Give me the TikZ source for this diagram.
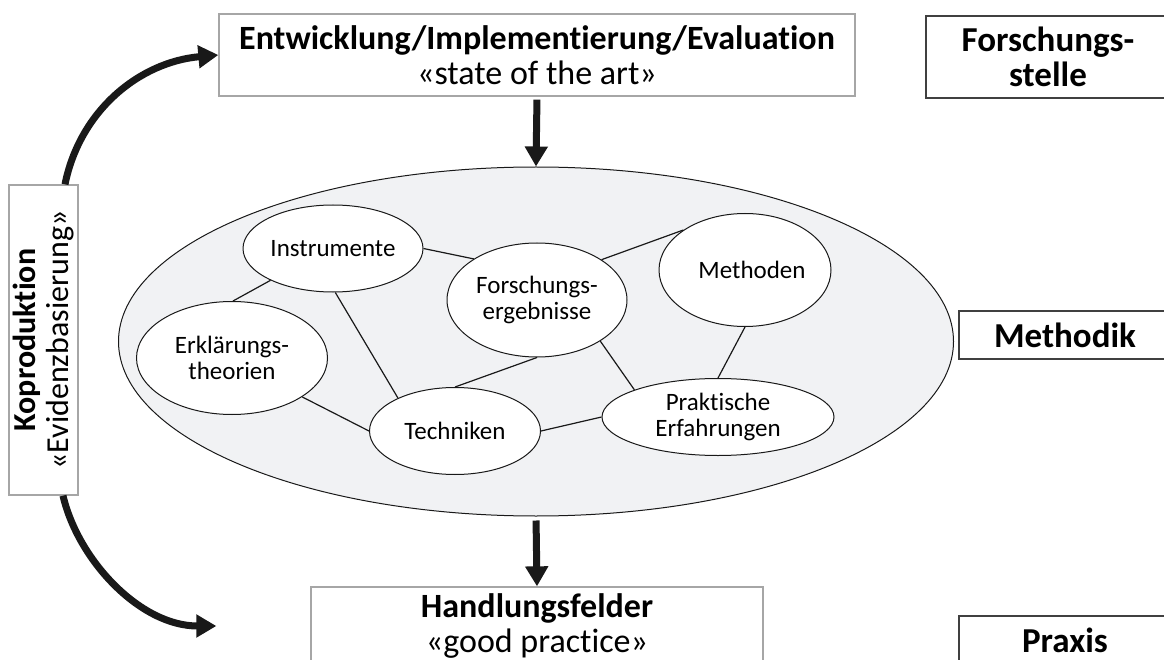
\documentclass[tikz,border=0pt]{standalone}
\usepackage{fontspec}
\setmainfont{Carlito}[Ligatures=NoCommon]
\usepackage{tikz}
\usetikzlibrary{positioning}
\usetikzlibrary{shapes.geometric, arrows.meta}
\definecolor{ovalgray}{HTML}{F1F2F4}
\definecolor{boxgray}{HTML}{A6A6A6}
\tikzstyle{bigarrow} = [line width=7pt,draw=black!90,-{Triangle[length=20pt,width=22pt]}]
\tikzstyle{box} = [draw=boxgray,line width=1.3pt,fill=white,align=center,font=\fontsize{34}{35}\selectfont]
\tikzstyle{sidebox} = [draw=black!75,line width=1.3pt,fill=white,align=center,font=\fontsize{35}{35}\selectfont\bfseries]
\tikzstyle{oval} = [ellipse,draw=black!90,line width=1pt,fill=white,align=center,inner sep=0pt,font=\fontsize{25}{26}\selectfont]
\tikzstyle{link} = [line width=1.2pt,draw=black!90]

\begin{document}
\begin{tikzpicture}[x=1pt,y=-1pt]
	\useasboundingbox (0,0) rectangle (1164,660);
	%Nodes
	\node (oval) [ellipse,draw=black!90,line width=1pt,fill=ovalgray,minimum width=835pt,minimum height=349pt] at (536,341.5) {};
	
	\node (entw) [box,minimum width=636pt,minimum height=82pt] at (537,55) {\textbf{Entwicklung/Implementierung/Evaluation}\\«state of the art»};
	\node (hand) [box,minimum width=452pt,minimum height=78pt] at (537,626) {\textbf{Handlungsfelder}\\«good practice»};
	\node (kopro) [box,rotate=90,inner sep=0pt,minimum width=310pt,minimum height=69pt,font=\fontsize{32}{33}\selectfont] at (43.5,340) {\textbf{Koproduktion}\\«Evidenzbasierung»};
	
	\node (fstelle) [sidebox,minimum width=244pt,minimum height=82pt] at (1048,57) {Forschungs-\\stelle};
	\node (methodik) [sidebox,minimum width=212pt,minimum height=48pt] at (1065,335) {Methodik};
	\node (praxis) [sidebox,minimum width=212pt,minimum height=48pt] at (1065,640) {Praxis};
	
	\node (instr) [oval,minimum width=180pt,minimum height=87pt] at (333,248.5) {Instrumente};
	\node (forsch) [oval,minimum width=180pt,minimum height=114pt] at (537,300) {Forschungs-\\ergebnisse};
	\node (meth) [oval,minimum width=172pt,minimum height=113pt] at (745,270) {\hspace*{14pt}Methoden};
	\node (erkl) [oval,minimum width=191pt,minimum height=113pt] at (232,358) {Erklärungs-\\theorien};
	\node (tech) [oval,minimum width=171pt,minimum height=87pt] at (455,431) {Techniken};
	\node (prakt) [oval,minimum width=232pt,minimum height=77pt] at (718,417) {Praktische\\Erfahrungen};
	
	\coordinate [left=94pt of hand.west] (handin);
	
	%Lines
	\draw[link] (instr.east) -- (forsch.147);
	\draw[link] (instr.207) -- (erkl.89);
	\draw[link] (instr.273) -- (tech.150);
	\draw[link] (erkl.331) -- (tech.180);
	\draw[link] (forsch.south) -- (tech.north);
	\draw[link] (forsch.327) -- (prakt.162);
	\draw[link] (forsch.32) -- (meth.147);
	\draw[link] (meth.south) -- (prakt.north);
	\draw[link] (tech.east) -- (prakt.west);
	
	%Arrows
	\draw[bigarrow,shorten <=3pt] (entw.south) -- (oval.north);
	\draw[bigarrow,shorten <=4pt] (oval.south) -- (hand.north);
	\draw[bigarrow] ([xshift=21.5pt]kopro.east) .. controls (80,110) and (140,62) .. (entw.west);
	\draw[bigarrow] ([xshift=19.5pt]kopro.west) .. controls (78,560) and (140,626) .. (handin);
\end{tikzpicture}
\end{document}
